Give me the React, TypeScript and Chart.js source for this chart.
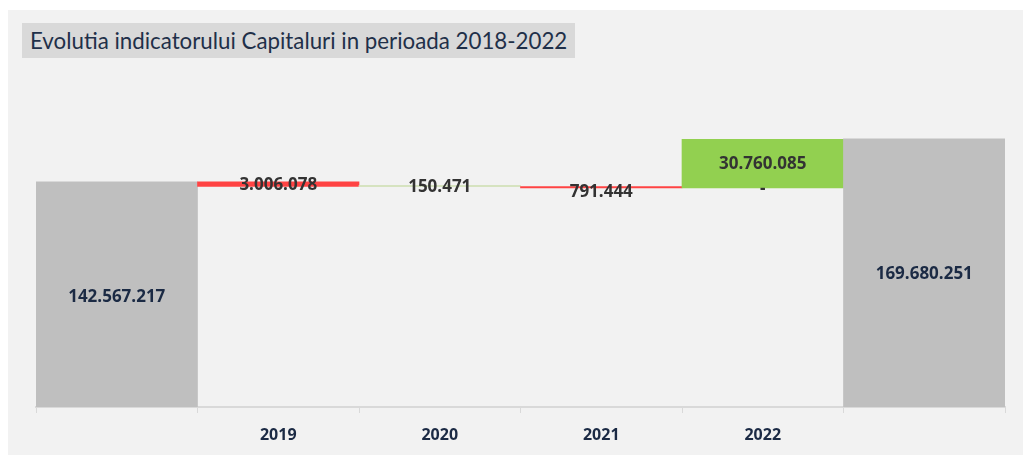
import React, { useEffect, useRef } from "react";
import { Chart, registerables } from "chart.js";

Chart.register(...registerables);

const categories = ["", "2019", "2020", "2021", "2022", ""];
const startValue = 142567217;
const endValue = 169680251;
const decreases = [3006078, 150471, 791444, 0];
const increases = [0, 0, 0, 30760085];
const titleText = "Evolutia indicatorului Capitaluri in perioada 2018-2022";

const fmt = (v: number) => String(Math.round(v)).replace(/\B(?=(\d{3})+(?!\d))/g, ".");

export default function App() {
  const ref = useRef<HTMLCanvasElement>(null);
  useEffect(() => {
    if (!ref.current) return;
    const ranges: [number, number][] = [];
    const colors: string[] = [];
    const labels: string[] = [];
    const labelColors: string[] = [];
    ranges.push([0, startValue]);
    colors.push("#bfbfbf");
    labels.push(fmt(startValue));
    labelColors.push("#1b2a44");
    let run = startValue;
    for (let i = 0; i < decreases.length; i++) {
      if (decreases[i] > 0) {
        ranges.push([run - decreases[i], run]);
        run -= decreases[i];
        colors.push(i === 1 ? "#d6e3c0" : "#ff4343");
        labels.push(fmt(decreases[i]));
      } else {
        ranges.push([run, run + increases[i]]);
        run += increases[i];
        colors.push("#92d050");
        labels.push(fmt(increases[i]));
      }
      labelColors.push("#333333");
    }
    ranges.push([0, endValue]);
    colors.push("#bfbfbf");
    labels.push(fmt(endValue));
    labelColors.push("#1b2a44");
    const labelOffsets = [3, 1, 1, 5, 0, 1];

    const labelPlugin = {
      id: "barLabels",
      afterDatasetsDraw(chart: any) {
        const ctx = chart.ctx;
        const meta = chart.getDatasetMeta(0);
        ctx.save();
        ctx.font = "bold 17px 'Open Sans', sans-serif";
        ctx.textAlign = "center";
        ctx.textBaseline = "middle";
        meta.data.forEach((el: any, i: number) => {
          const cy = (el.y + el.base) / 2 + labelOffsets[i];
          ctx.fillStyle = labelColors[i];
          ctx.fillText(labels[i], el.x, cy);
        });
        decreases.forEach((d, i) => {
          if (d === 0) {
            const el = meta.data[i + 1];
            ctx.fillStyle = "#333333";
            ctx.fillText("-", el.x, Math.max(el.y, el.base) + 1);
          }
        });
        const xs = chart.scales.x;
        ctx.font = "bold 16px 'Open Sans', sans-serif";
        ctx.fillStyle = "#1b2a44";
        categories.forEach((c, i) => {
          if (!c) return;
          ctx.fillText(c, xs.getPixelForTick(i), xs.top + 28);
        });
        ctx.restore();
      },
    };

    const chart = new Chart(ref.current, {
      type: "bar",
      data: {
        labels: categories,
        datasets: [
          {
            data: ranges as any,
            backgroundColor: colors,
            borderWidth: 0,
            barPercentage: 1,
            categoryPercentage: 1,
            minBarLength: 1.5,
          },
        ],
      },
      options: {
        animation: false,
        responsive: false,
        maintainAspectRatio: false,
        layout: { padding: { left: 28, right: 18, top: 81, bottom: 0 } },
        plugins: { legend: { display: false }, tooltip: { enabled: false }, title: { display: false } },
        scales: {
          y: { display: false, min: 0, max: 200000000 },
          x: {
            afterFit(scale: any) {
              scale.height = 48;
            },
            grid: { display: true, drawOnChartArea: false, offset: true, tickLength: 6, color: "#d9d9d9", lineWidth: 1 },
            border: { display: true, color: "#d9d9d9", width: 2 },
            ticks: {
              color: "rgba(0,0,0,0)",
              font: { size: 12 },
              padding: 12,
            },
          },
        },
      },
      plugins: [labelPlugin],
    });
    return () => chart.destroy();
  }, []);

  return (
    <div style={{ position: "absolute", left: 8, top: 10, width: 1015, height: 445, background: "#f2f2f2", overflow: "hidden" }}>
      <div
        style={{
          position: "absolute",
          left: 14,
          top: 13,
          height: 35,
          lineHeight: "35px",
          padding: "0 8px",
          background: "#d9d9d9",
          color: "#1f3049",
          fontFamily: "Lato, sans-serif",
          fontSize: 22.3,
          whiteSpace: "nowrap",
        }}
      >
        {titleText}
      </div>
      <canvas ref={ref} width={1015} height={445} style={{ position: "absolute", left: 0, top: 0 }} />
    </div>
  );
}
